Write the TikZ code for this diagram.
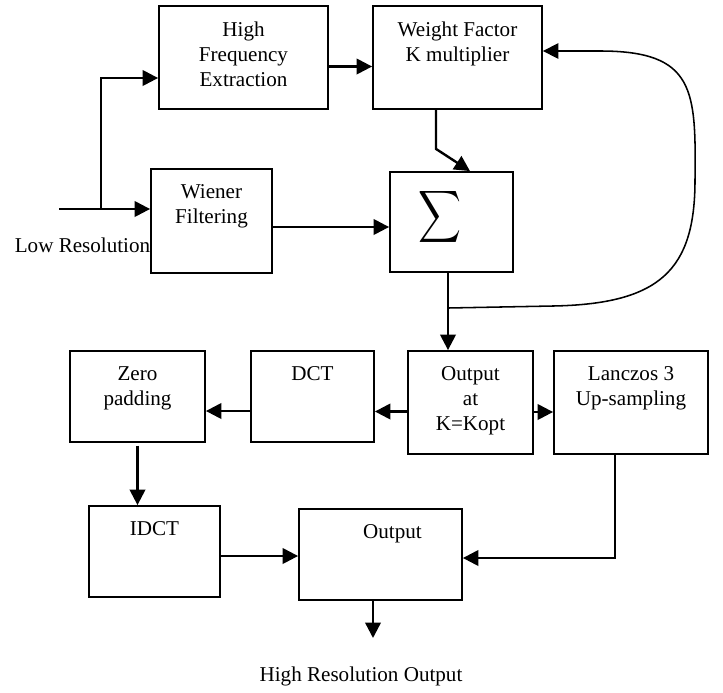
\documentclass[tikz,border=0pt]{standalone}
\usepackage{fontspec}
\setmainfont{Liberation Serif}
\usepackage{amsmath}
\usepackage{graphicx}
\usetikzlibrary{arrows.meta, positioning, calc, fit}

\tikzset{
  box/.style={draw, line width=1.3pt, inner sep=0pt},
  blk/.style={box, label={[anchor=north, align=center, inner sep=0pt, yshift=-11.8pt]north:#1}},
  ar/.style={line width=1.7pt, -{Triangle[length=11pt,width=11pt]}},
  fb/.style={line width=1.1pt, -{Triangle[length=11pt,width=11pt]}},
}

\begin{document}
\begin{tikzpicture}[x=0.025cm, y=-0.025cm, font=\fontsize{15}{17.8}\selectfont]
  \useasboundingbox (0,0) rectangle (723,692);

  % upper part
  \node[blk={High\\Frequency\\Extraction}, fit={(159,6) (328,109)}] (hfe) {};
  \node[blk={Weight Factor\\K multiplier}, fit={(373,6) (542,109)}] (wfk) {};
  \node[blk={Wiener\\Filtering}, fit={(151,169) (272,273)}] (wien) {};
  \node[box, fit={(390,172) (513,272)},
    label={[anchor=center, xshift=-8.2pt, yshift=3.6pt]center:\scalebox{0.85}[1.04]{\fontsize{27}{30}\selectfont$\displaystyle\sum$}}] (sig) {};

  \coordinate (lr) at (59,209);
  \coordinate (br) at (101,209);
  \node (lrtxt) at (82.5,245) {Low Resolution};

  \draw[ar] (lr) -- (lr -| wien.west);
  \draw[ar] (br) |- ([shift={(0,20.5)}]hfe.west);
  \draw[ar] ([shift={(0,9)}]hfe.east) -- ([shift={(0,9)}]wfk.west);
  \draw[ar] ([shift={(-21.5,0)}]wfk.south) -- ++(0,39) -- ([shift={(18.5,0)}]sig.north);
  \draw[ar] ([shift={(0,6)}]wien.east) -- ([shift={(0,5)}]sig.west);

  % lower part
  \node[blk={Zero\\padding}, fit={(70,351) (205,442)}] (zp) {};
  \node[blk={DCT}, fit={(251,351) (374,442)}] (dct) {};
  \node[blk={Output\\at\\K=Kopt}, fit={(408,351) (533,454)}] (outk) {};
  \node[blk={Lanczos 3\\Up-sampling}, fit={(554,351) (708,454)}] (lanc) {};
  \node[blk={IDCT}, fit={(89,506) (220,597)}] (idct) {};
  \node[blk={\hspace*{17pt}Output}, fit={(299,509) (462,600)}] (outp) {};

  \draw[ar] ([shift={(-3.5,0)}]sig.south) -- ([shift={(-22.5,0)}]outk.north);
  \coordinate (tap) at (448,308);
  \draw[fb] (tap) -- (553,306) .. controls (660,304) and (695,270) .. (695,180)
    .. controls (696,90) and (695,51) .. (600,51) -- ([shift={(0,-6.5)}]wfk.east);

  \draw[ar] ([shift={(0,9)}]outk.west) -- ([shift={(0,15)}]dct.east);
  \draw[ar] ([shift={(0,14.5)}]dct.west) -- ([shift={(0,14.5)}]zp.east);
  \draw[ar] ([shift={(0,9.5)}]outk.east) -- ([shift={(0,9.5)}]lanc.west);
  \draw[ar] ([yshift=-2pt]zp.south) -- (zp.south |- idct.north);
  \draw[ar] ([shift={(0,4.5)}]idct.east) -- ([shift={(0,1.5)}]outp.west);
  \draw[ar] ([shift={(-16,0)}]lanc.south) |- ([shift={(0,3.5)}]outp.east);

  \coordinate (hr) at (373,638);
  \draw[ar] ([shift={(-7.5,0)}]outp.south) -- (hr);
  \node (hrtxt) at (361,676) {High Resolution Output};
\end{tikzpicture}
\end{document}
